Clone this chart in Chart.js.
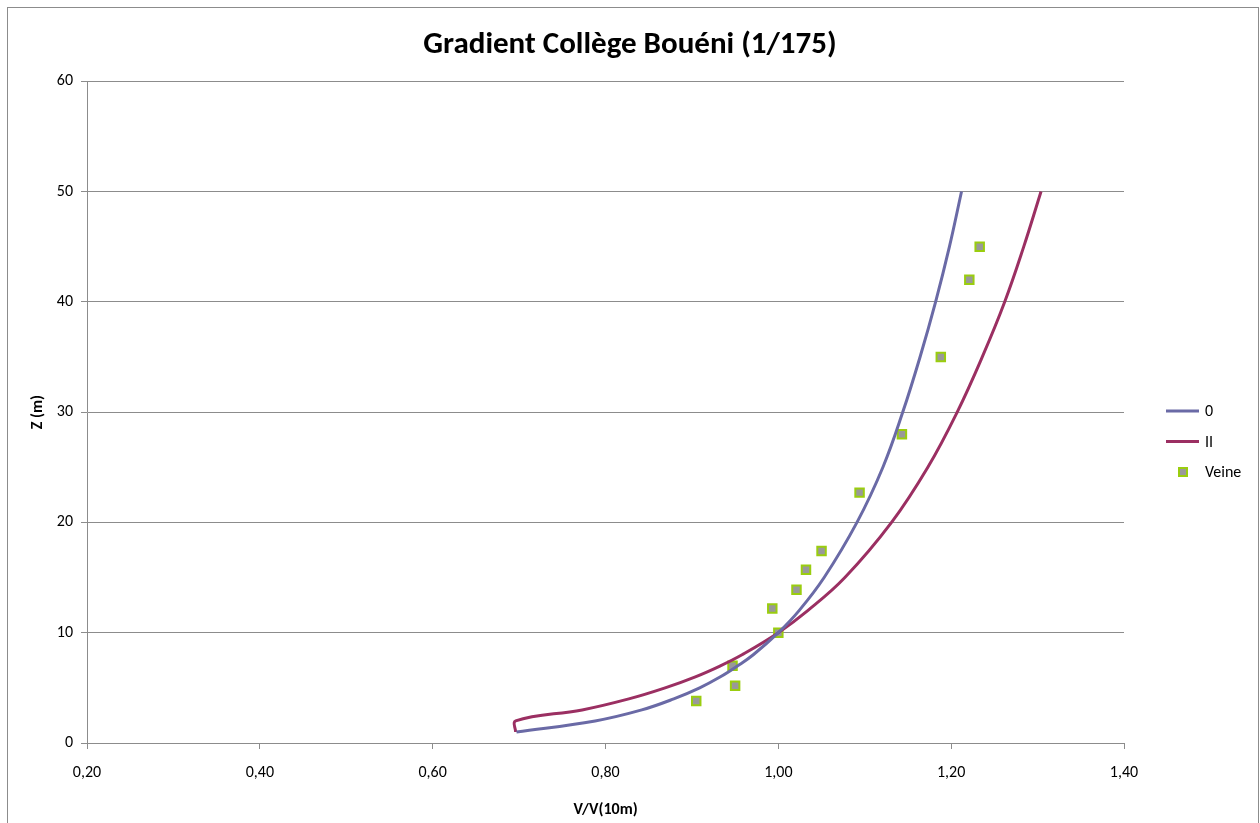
<!DOCTYPE html>
<html>
<head>
<meta charset="utf-8">
<script src="https://cdn.jsdelivr.net/npm/chart.js@4.4.0/dist/chart.umd.min.js"></script>
<style>
  html, body { margin: 0; padding: 0; background: #fff; }
  #wrap { width: 1260px; height: 823px; position: relative; }
</style>
</head>
<body>
<div id="wrap"><canvas id="gradientChart" width="1260" height="823"></canvas></div>
<script>
// heights (m)
const curveHeights = [1, 2, 3, 4, 5, 6, 7, 8, 10, 12, 15, 20, 25, 30, 35, 40, 45, 50];

// profile "0"
const profile0 = [0.697, 0.788, 0.842, 0.879, 0.909, 0.933, 0.953, 0.971, 1.000, 1.024, 1.053, 1.091, 1.121, 1.144, 1.164, 1.182, 1.198, 1.212];

// profile "II"
const profileII = [0.696, 0.696, 0.773, 0.827, 0.869, 0.904, 0.933, 0.958, 1.000, 1.034, 1.077, 1.131, 1.173, 1.207, 1.236, 1.262, 1.284, 1.304];

// wind tunnel measurements (Veine)
const veineV = [0.905, 0.950, 0.947, 1.000, 0.993, 1.021, 1.032, 1.050, 1.094, 1.143, 1.188, 1.221, 1.233];
const veineZ = [3.8, 5.2, 7.0, 10.0, 12.2, 13.9, 15.7, 17.4, 22.7, 28.0, 35.0, 42.0, 45.0];

const seriesNames = ["0", "II", "Veine"];

const toPoints = (xs, ys) => xs.map((x, i) => ({ x: x, y: ys[i] }));

const FONT = "Calibri, Carlito, Lato, 'Liberation Sans', sans-serif";
const GRID = "#8c8c8c";

// frame around the whole chart + legend on the right
const framePlugin = {
  id: "frame",
  beforeDraw(chart) {
    const ctx = chart.ctx;
    ctx.save();
    ctx.strokeStyle = "#8c8c8c";
    ctx.lineWidth = 1;
    ctx.strokeRect(7.5, 7.5, 1251, 830);
    ctx.restore();
  },
  afterDraw(chart) {
    const ctx = chart.ctx;
    ctx.save();
    ctx.font = "16px " + FONT;
    ctx.textBaseline = "middle";
    ctx.fillStyle = "#000";
    chart.data.datasets.forEach((ds, i) => {
      const y = 411 + i * 30.5;
      if (ds.showLine) {
        ctx.strokeStyle = ds.borderColor;
        ctx.lineWidth = 3;
        ctx.beginPath();
        ctx.moveTo(1166, y);
        ctx.lineTo(1199, y);
        ctx.stroke();
      } else {
        ctx.fillStyle = ds.pointBorderColor;
        ctx.fillRect(1178, y - 5, 10, 10);
        ctx.fillStyle = ds.pointBackgroundColor;
        ctx.fillRect(1180, y - 3, 6, 6);
        ctx.fillStyle = "#000";
      }
      ctx.fillText(ds.label, 1205, y + 1);
    });
    ctx.restore();
  }
};

chart = new Chart(document.getElementById("gradientChart"), {

  type: "scatter",

  data: {
    datasets: [
      {
        label: seriesNames[0],
        data: toPoints(profile0, curveHeights),
        showLine: true,
        borderColor: "#6a6aa6",
        borderWidth: 3,
        pointRadius: 0,
        tension: 0.4
      },
      {
        label: seriesNames[1],
        data: toPoints(profileII, curveHeights),
        showLine: true,
        borderColor: "#9b2f62",
        borderWidth: 3,
        pointRadius: 0,
        tension: 0.4
      },
      {
        label: seriesNames[2],
        data: toPoints(veineV, veineZ),
        showLine: false,
        pointStyle: "rect",
        pointRadius: 6,
        pointBackgroundColor: "#999999",
        pointBorderColor: "#9acd0f",
        pointBorderWidth: 2
      }
    ]
  },

  options: {
    responsive: false,
    animation: false,
    devicePixelRatio: 1,
    layout: {
      padding: { left: 0, right: 0, top: 0, bottom: 0 }
    },
    plugins: {
      legend: { display: false },
      tooltip: { enabled: false },
      title: {
        display: true,
        text: "Gradient Collège Bouéni (1/175)",
        color: "#000",
        font: { family: FONT, size: 31, weight: "bold", lineHeight: 1.2 },
        padding: { top: 27, bottom: 17 }
      }
    },
    scales: {
      x: {
        type: "linear",
        min: 0.2,
        max: 1.4,
        afterFit: s => { s.height = 80; },
        ticks: {
          stepSize: 0.2,
          color: "#000",
          padding: 14,
          maxRotation: 0,
          font: { family: FONT, size: 16 },
          callback: v => v.toFixed(2).replace(".", ",")
        },
        grid: { drawOnChartArea: false, drawTicks: true, tickLength: 6, color: GRID },
        border: { color: GRID },
        title: {
          display: true,
          text: "V/V(10m)",
          color: "#000",
          font: { family: FONT, size: 16, weight: "bold" },
          padding: { top: 0, bottom: 3 }
        }
      },
      y: {
        type: "linear",
        min: 0,
        max: 60,
        afterFit: s => { s.width = 87; },
        ticks: {
          stepSize: 10,
          color: "#000",
          padding: 8,
          font: { family: FONT, size: 16 }
        },
        grid: { drawTicks: true, tickLength: 6, color: GRID },
        border: { color: GRID },
        title: {
          display: true,
          text: "Z (m)",
          color: "#000",
          font: { family: FONT, size: 16, weight: "bold" },
          padding: { top: 28, bottom: 0 }
        }
      },
      // empty right-hand scale that keeps room for the legend
      yRight: {
        type: "linear",
        position: "right",
        display: true,
        afterFit: s => { s.width = 136; },
        ticks: { display: false },
        grid: { display: false },
        border: { display: false }
      }
    }
  },

  plugins: [framePlugin]

});
</script>
</body>
</html>
